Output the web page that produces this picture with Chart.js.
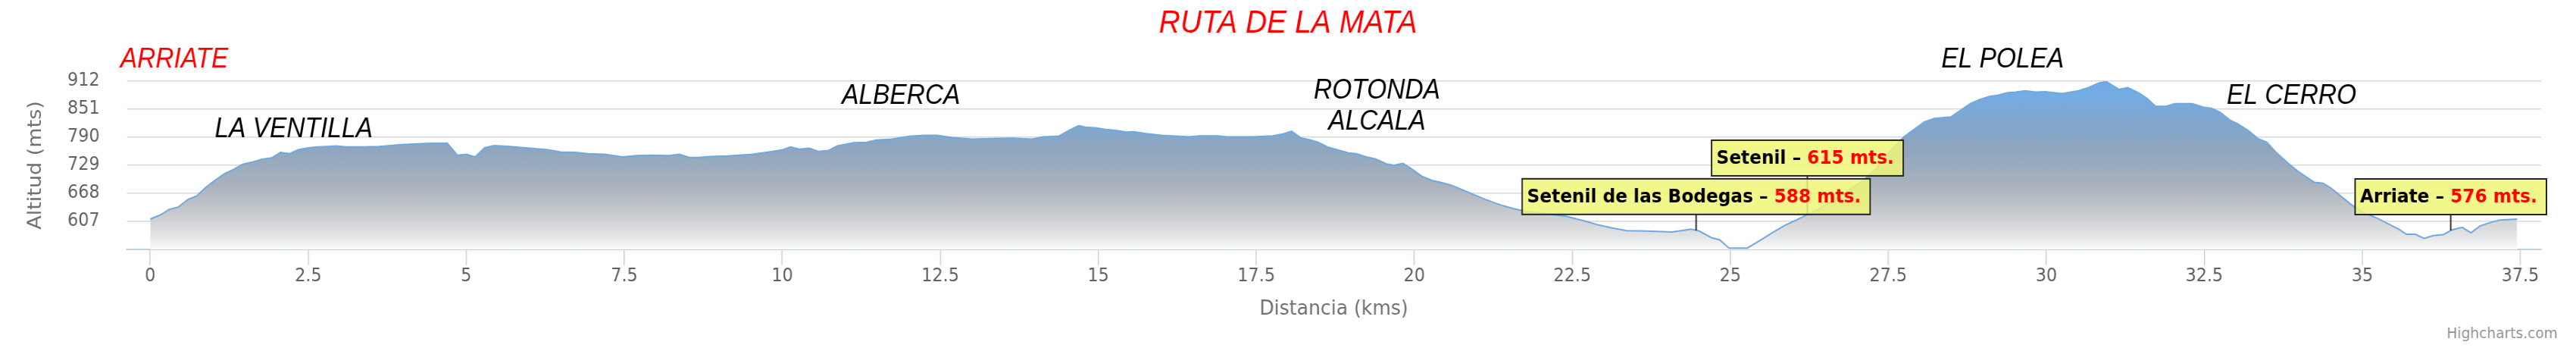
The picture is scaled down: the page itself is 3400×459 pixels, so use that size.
<!DOCTYPE html>
<html>
<head>
<meta charset="utf-8">
<title>Ruta de la Mata</title>
<script src="https://cdn.jsdelivr.net/npm/chart.js@4"></script>
<style>
  html, body { margin: 0; padding: 0; background: #fff; overflow: hidden; }
</style>
</head>
<body>
<canvas id="profile" width="3656" height="459" style="display:block;width:3400px;height:459px"></canvas>
<script>
// distance along the route (km) and altitude (m)
const kms = [
  0.00, 0.16, 0.30, 0.44, 0.60, 0.73, 0.88, 1.02, 1.18, 1.32, 1.46, 1.62, 1.76, 1.92, 2.06, 2.20, 2.34, 2.50,
  2.66, 2.80, 2.94, 3.10, 3.38, 3.62, 3.98, 4.42, 4.70, 4.86, 5.00, 5.14, 5.29, 5.44, 5.69, 6.01,
  6.29, 6.49, 6.73, 6.93, 7.19, 7.47, 7.69, 7.93, 8.21, 8.37, 8.53, 8.67, 8.85, 9.13, 9.53, 9.85,
  10.01, 10.13, 10.27, 10.43, 10.57, 10.73, 10.87, 11.13, 11.33, 11.49, 11.73, 12.01, 12.25,
  12.45, 12.69, 13.01, 13.33, 13.65, 13.95, 14.13, 14.37, 14.55, 14.69, 14.80, 14.97, 15.12, 15.28,
  15.44, 15.56, 15.76, 16.00, 16.28, 16.44, 16.60, 16.88, 17.04, 17.44, 17.76, 17.92, 18.06, 18.20,
  18.36, 18.48, 18.64, 18.80, 18.96, 19.08, 19.24, 19.38, 19.56, 19.68, 19.82, 19.96, 20.12, 20.28,
  20.44, 20.60, 20.84, 21.12, 21.36, 21.56, 21.76, 22.08, 22.40, 22.72, 22.92, 23.12, 23.36, 23.68,
  24.08, 24.38, 24.51, 24.71, 24.83, 24.98, 25.11, 25.27, 25.51, 25.67, 25.87, 26.03, 26.19, 26.39,
  26.63, 26.87, 27.11, 27.31, 27.51, 27.75, 27.91, 28.07, 28.23, 28.49, 28.65, 28.81, 28.95, 29.11,
  29.23, 29.39, 29.51, 29.67, 29.83, 29.99, 30.25, 30.51, 30.67, 30.83, 30.95, 31.15, 31.29, 31.47,
  31.59, 31.73, 31.89, 32.03, 32.31, 32.49, 32.61, 32.75, 32.91, 33.03, 33.19, 33.35, 33.49, 33.63,
  33.83, 33.98, 34.10, 34.24, 34.38, 34.50, 34.66, 34.82, 35.02, 35.22, 35.42, 35.58, 35.70, 35.84,
  35.98, 36.12, 36.28, 36.41, 36.58, 36.72, 36.86, 37.06, 37.18, 37.45
];
const altitudes = [
  612, 621, 633, 638, 655, 662, 681, 696, 711, 720, 731, 736, 742, 745, 757, 754, 763, 767,
  769, 770, 771, 769, 769, 770, 774, 777, 777, 751, 753, 747, 767, 772, 770, 766,
  763, 758, 757, 754, 753, 747, 750, 751, 750, 753, 746, 746, 748, 749, 753, 759,
  763, 769, 764, 766, 759, 761, 771, 778, 779, 784, 786, 792, 794,
  794, 789, 786, 787, 788, 786, 791, 792, 806, 815, 812, 810, 807, 805,
  801, 802, 798, 794, 792, 791, 793, 793, 791, 791, 793, 797, 803, 789,
  784, 779, 768, 762, 756, 754, 747, 743, 732, 729, 733, 721, 705, 696,
  691, 685, 671, 655, 643, 635, 629, 624, 618, 607, 599, 593, 587, 586,
  584, 590, 586, 571, 567, 549, 549, 549, 569, 583, 599, 609, 620, 633,
  652, 675, 697, 722, 758, 791, 807, 823, 831, 834, 849, 864, 872, 879,
  881, 887, 888, 891, 888, 889, 885, 891, 898, 908, 911, 894, 898, 886,
  875, 857, 857, 863, 863, 855, 853, 844, 827, 819, 805, 787, 779, 758,
  733, 716, 705, 692, 690, 680, 662, 644, 626, 615, 601, 590, 579, 579,
  570, 576, 578, 588, 594, 582, 597, 606, 610, 612
];

const xTicks = [0, 2.5, 5, 7.5, 10, 12.5, 15, 17.5, 20, 22.5, 25, 27.5, 30, 32.5, 35, 37.5];
const yTicks = [546, 607, 668, 729, 790, 851, 912];

// labelled points on the route
const calloutNames = ["Setenil de las Bodegas", "Setenil", "Arriate"];
const calloutKms = [24.46, 26.22, 36.40];
const calloutHeights = [588, 615, 576];

const placeNames = ["ARRIATE", "LA VENTILLA", "ALBERCA", "ROTONDA\nALCALA", "EL POLEA", "EL CERRO"];

// where the place names sit (km, altitude of first baseline)
const placeAnchors = [[0.38, 941], [2.27, 790], [11.88, 863], [19.41, 874], [29.31, 941], [33.88, 863]];
const placeColors = ["#ff0000", "#000", "#000", "#000", "#000", "#000"];
const calloutLift = [21, 51, 21];

const FONT = "'DejaVu Sans', sans-serif";

function altitudeAt(km) {
    for (let i = 0; i < kms.length - 1; i++) {
        if (km >= kms[i] && km <= kms[i + 1]) {
            const t = (km - kms[i]) / (kms[i + 1] - kms[i]);
            return altitudes[i] + t * (altitudes[i + 1] - altitudes[i]);
        }
    }
    return altitudes[altitudes.length - 1];
}

function areaGradient(context) {
    const { ctx, chartArea } = context.chart;
    if (!chartArea) return "rgba(150,170,190,0.8)";
    const g = ctx.createLinearGradient(0, chartArea.top, 0, chartArea.bottom);
    g.addColorStop(0, "#6ea9e4");
    g.addColorStop(0.08, "#75ade2");
    g.addColorStop(0.25, "#80a6ce");
    g.addColorStop(0.4, "#8fa6bf");
    g.addColorStop(0.62, "#a9b2bd");
    g.addColorStop(0.77, "#c5c8cc");
    g.addColorStop(0.92, "#e3e4e5");
    g.addColorStop(1, "#fbfbfb");
    return g;
}

const decorations = {
    id: "decorations",
    afterDraw(chart) {
        const { ctx, scales: { x, y } } = chart;
        ctx.save();

        ctx.fillStyle = "#ff0000";
        ctx.font = "italic 42px 'Liberation Sans', Arial, sans-serif";
        ctx.textAlign = "center";
        ctx.textBaseline = "alphabetic";
        ctx.fillText("RUTA DE LA MATA", chart.width / 2, 43);

        ctx.font = "italic 36px 'Liberation Sans', Arial, sans-serif";
        placeNames.forEach((name, i) => {
            const px = x.getPixelForValue(placeAnchors[i][0]);
            const py = y.getPixelForValue(placeAnchors[i][1]);
            ctx.fillStyle = placeColors[i];
            name.split("\n").forEach((line, j) => ctx.fillText(line, px, py + j * 41));
        });

        ctx.font = "20px " + FONT;
        ctx.fillStyle = "#909090";
        ctx.textAlign = "right";
        ctx.fillText("Highcharts.com", 3630, 446);

        const order = calloutNames.map((_, i) => i).sort((a, b) => calloutLift[b] - calloutLift[a]);
        ctx.font = "bold 25px " + FONT;
        ctx.textAlign = "left";
        order.forEach(i => {
            const ax = x.getPixelForValue(calloutKms[i]);
            const ay = y.getPixelForValue(altitudeAt(calloutKms[i]));
            const part1 = calloutNames[i] + " \u2013 ";
            const part2 = calloutHeights[i] + " mts.";
            const w1 = ctx.measureText(part1).width;
            const w = w1 + ctx.measureText(part2).width;
            const boxW = w + 20;
            const bottom = ay - calloutLift[i];
            const top = bottom - 47;
            const left = ax - boxW / 2;

            ctx.strokeStyle = "#222";
            ctx.lineWidth = 2;
            ctx.beginPath();
            ctx.moveTo(ax, bottom);
            ctx.lineTo(ax, ay);
            ctx.stroke();

            ctx.fillStyle = "rgba(240,246,120,0.85)";
            ctx.fillRect(left, top, boxW, 47);
            ctx.strokeRect(left, top, boxW, 47);

            ctx.fillStyle = "#000";
            ctx.fillText(part1, left + 7, top + 31);
            ctx.fillStyle = "#ff0000";
            ctx.fillText(part2, left + 7 + w1, top + 31);
        });
        ctx.restore();
    }
};

new Chart(document.getElementById("profile").getContext("2d"), {
    type: "line",
    data: {
        datasets: [{
            data: kms.map((k, i) => ({ x: k, y: altitudes[i] })),
            borderColor: "#70a8e0",
            borderWidth: 2,
            backgroundColor: areaGradient,
            fill: "start",
            pointRadius: 0,
            tension: 0
        }]
    },
    options: {
        responsive: false,
        animation: false,
        devicePixelRatio: 1,
        layout: { padding: { top: 107, right: 49.5, bottom: 0, left: 0 } },
        plugins: { legend: { display: false }, title: { display: false }, tooltip: { enabled: false } },
        scales: {
            x: {
                type: "linear",
                min: -0.375,
                max: 37.83,
                afterBuildTicks: s => { s.ticks = xTicks.map(v => ({ value: v })); },
                afterFit: s => { s.height = 130; },
                grid: { drawOnChartArea: false, drawTicks: true, tickLength: 21, color: "#c0d0e0", lineWidth: 1.5 },
                border: { color: "#c0d0e0", width: 2 },
                ticks: { font: { family: FONT, size: 24 }, color: "#606060", padding: 0, maxRotation: 0, autoSkip: false, callback: v => String(v) },
                title: { display: true, text: "Distancia (kms)", font: { family: FONT, size: 27 }, color: "#707070", padding: { top: 0, bottom: 35 } }
            },
            y: {
                min: 546,
                max: 912,
                z: 1,
                afterBuildTicks: s => { s.ticks = yTicks.map(v => ({ value: v })); },
                afterFit: s => { s.width = 179.6; },
                border: { display: false },
                grid: {
                    drawTicks: false,
                    lineWidth: 1.5,
                    color: c => (c.tick && c.tick.value === yTicks[0]) ? "rgba(0,0,0,0)" : "rgba(0,0,0,0.15)"
                },
                ticks: { font: { family: FONT, size: 24 }, color: "#606060", padding: 38, callback: v => v === yTicks[0] ? "" : String(v) },
                title: { display: true, text: "Altitud (mts)", font: { family: FONT, size: 27 }, color: "#707070", padding: { top: 35, bottom: 0 } }
            }
        }
    },
    plugins: [decorations]
});
</script>
</body>
</html>
